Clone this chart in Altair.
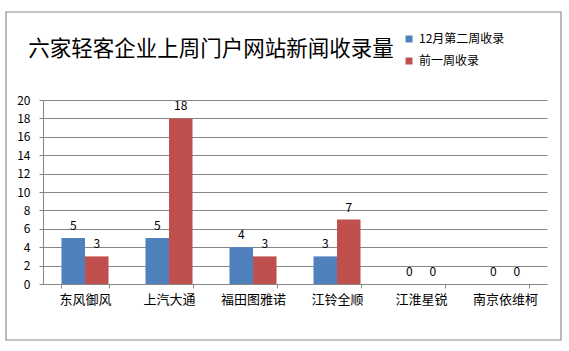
import altair as alt
import pandas as pd

categories = ["东风御风", "上汽大通", "福田图雅诺", "江铃全顺", "江淮星锐", "南京依维柯"]
series_names = ["12月第二周收录", "前一周收录"]
this_week = [5, 5, 4, 3, 0, 0]
prev_week = [3, 18, 3, 7, 0, 0]
y_ticks = [0, 2, 4, 6, 8, 10, 12, 14, 16, 18, 20]
colors = ["#4F81BD", "#C0504D"]
title_text = "六家轻客企业上周门户网站新闻收录量"

rows = []
for i, c in enumerate(categories):
    rows.append({"cat": c, "series": series_names[0], "value": this_week[i]})
    rows.append({"cat": c, "series": series_names[1], "value": prev_week[i]})
df = pd.DataFrame(rows)

FONT = "Noto Sans CJK SC"

x = alt.X("cat:N", sort=categories, title=None,
          scale=alt.Scale(paddingInner=0.44, paddingOuter=0.22),
          axis=alt.Axis(labelAngle=0, tickBand="extent", tickSize=4, labelPadding=5,
                        labelFontSize=13, labelFont=FONT, labelColor="#000",
                        domainColor="#868686", tickColor="#868686", grid=False))
xo = alt.XOffset("series:N", sort=series_names)
y = alt.Y("value:Q", title=None,
          scale=alt.Scale(domain=[0, 20], nice=False),
          axis=alt.Axis(values=y_ticks, tickSize=4, labelPadding=9, labelOverlap=False,
                        labelFontSize=12, labelFont=FONT, labelColor="#000",
                        domainColor="#868686", tickColor="#868686",
                        gridColor="#868686", gridWidth=1))

base = alt.Chart(df)
bars = base.mark_bar().encode(
    x=x, xOffset=xo, y=y,
    color=alt.Color("series:N", sort=series_names,
                    scale=alt.Scale(domain=series_names, range=colors),
                    legend=alt.Legend(title=None, orient="none", legendX=360, legendY=-67,
                                      symbolType="square", symbolSize=49,
                                      symbolStrokeWidth=0, rowPadding=10,
                                      labelFontSize=12, labelFont=FONT, labelColor="#000",
                                      labelOffset=4)),
)
labels = base.mark_text(baseline="bottom", dy=-5, fontSize=12, font=FONT, color="#000").encode(
    x=x, xOffset=xo, y=y, text="value:Q"
)

frame_data = alt.Data(values=[{"k": 1}])
frame = alt.Chart(frame_data).mark_rect(fill=None, stroke="#8c8c8c", strokeWidth=1.2).encode(
    x=alt.value(-37), x2=alt.value(518), y=alt.value(-88), y2=alt.value(240)
)
title = alt.Chart(frame_data).mark_text(
    text=title_text, fontSize=21.5, font=FONT, color="#000", align="center", baseline="alphabetic"
).encode(x=alt.value(168), y=alt.value(-44))

chart = alt.layer(frame, bars, labels, title).properties(
    width=504, height=184,
    autosize=alt.AutoSizeParams(type="none"),
    padding={"left": 43, "top": 100, "right": 22, "bottom": 67},
    background="white",
).configure_view(stroke=None)

chart.save("out.html", embed_options={"renderer": "svg", "actions": False})
